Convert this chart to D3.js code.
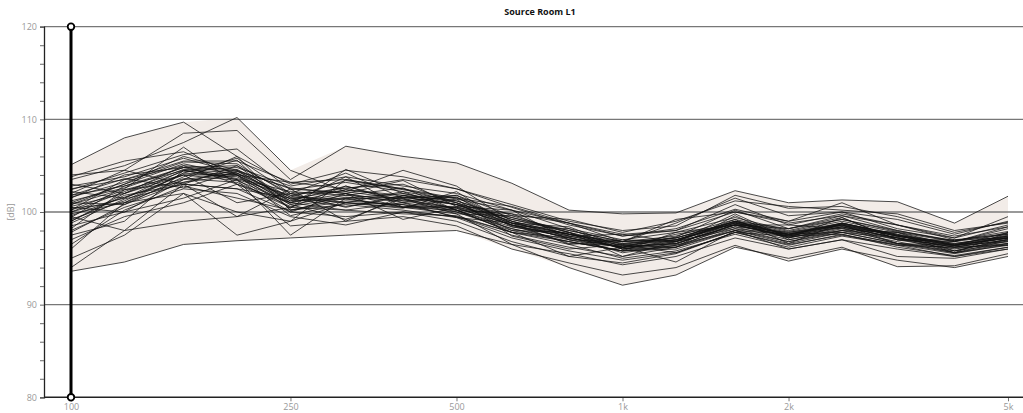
<!DOCTYPE html>
<html><head><meta charset="utf-8">
<script src="https://cdn.jsdelivr.net/npm/d3@7"></script>
<style>html,body{margin:0;padding:0;background:#fff;}svg{display:block;}</style>
</head><body>
<svg id="chart" width="1023" height="413"></svg>
<script>
const title = "Source Room L1";
const yLabel = "[dB]";
const frequencies = [100,125,160,200,250,315,400,500,630,800,1000,1250,1600,2000,2500,3150,4000,5000];
const xTickValues = [100,250,500,1000,2000,5000];
const xTickLabels = ["100","250","500","1k","2k","5k"];
const yTickValues = [80,90,100,110,120];
const levels = [
[105.1,108.0,109.7,106.0,103.0,104.5,103.8,102.5,100.8,99.0,98.0,98.5,101.8,100.4,100.6,99.5,97.8,98.9],
[103.5,105.0,107.5,110.2,104.5,102.2,104.5,102.8,99.0,97.0,96.8,98.8,101.5,99.6,100.0,98.2,97.2,99.5],
[102.0,104.5,108.5,108.8,103.5,107.1,106.0,105.3,103.1,100.2,99.8,99.9,102.3,101.0,101.3,101.1,98.8,101.7],
[93.6,94.6,96.5,96.9,97.2,97.5,97.8,98.0,96.5,95.5,94.3,95.2,97.2,96.0,97.0,96.0,95.2,96.0],
[94.0,98.0,99.0,99.5,102.5,99.0,101.8,100.2,97.8,95.2,96.2,94.6,98.0,96.0,97.0,95.2,95.0,96.0],
[97.5,99.0,104.5,103.5,97.5,101.5,102.0,101.0,98.0,97.8,95.2,96.8,99.2,96.6,98.8,97.6,95.6,97.8],
[99.5,98.0,103.0,105.0,101.0,103.8,100.5,101.4,97.4,96.0,96.5,95.6,97.8,97.4,97.6,96.4,96.2,96.4],
[101.0,103.0,106.0,104.5,102.5,102.0,103.4,100.6,100.2,97.0,95.8,97.8,98.6,98.2,99.4,97.0,96.8,98.2],
[100.0,101.5,104.0,104.0,99.6,101.0,100.4,102.2,98.5,98.2,96.0,96.2,99.6,97.0,98.0,97.8,95.8,97.0],
[99.0,102.0,105.0,103.0,100.5,102.8,101.0,99.4,98.8,96.5,97.0,96.8,98.4,97.8,98.6,96.6,96.4,96.8],
[102.5,103.5,105.5,105.5,103.2,103.5,102.5,101.5,100.6,98.8,97.4,98.0,100.8,98.6,99.8,98.6,97.2,98.6],
[98.0,100.5,102.5,102.0,99.5,98.6,100.0,99.0,96.8,95.2,94.5,95.5,97.8,96.5,97.5,96.5,95.5,96.5],
[103.0,102.0,104.0,101.0,102.0,100.5,101.8,101.2,99.2,97.8,96.5,97.2,99.0,97.5,98.8,97.5,96.5,97.5],
[96.0,101.0,103.5,104.2,100.8,99.2,101.5,100.0,98.0,96.8,95.8,96.2,98.2,96.8,98.0,96.8,95.6,96.6],
[100.8,102.5,107.0,103.0,101.0,102.0,100.5,100.5,99.4,97.8,96.0,96.8,99.0,97.6,98.8,97.5,96.6,97.4],
[104.0,104.5,103.0,102.5,100.0,99.5,100.0,99.5,97.8,96.5,95.0,95.8,97.6,96.2,97.4,96.4,95.2,96.2],
[99.8,101.0,102.0,97.5,99.0,103.5,102.5,101.0,99.0,97.6,96.6,97.0,98.6,97.4,98.4,97.2,96.2,97.2],
[101.5,104.0,104.8,105.0,102.0,104.2,101.5,101.8,98.8,98.4,96.2,97.6,98.6,98.6,98.2,97.8,96.4,97.8],
[97.0,99.5,101.0,103.0,98.5,99.0,99.5,98.5,96.0,94.5,93.2,94.0,96.4,94.7,96.0,94.8,94.0,95.2],
[95.0,97.5,102.0,100.0,99.0,101.0,100.5,99.8,96.5,94.0,92.1,93.2,96.2,95.0,96.2,94.1,94.2,95.5],
[102.2,101.5,104.5,103.5,101.8,101.0,102.2,100.2,99.8,97.4,97.6,96.8,99.8,97.2,99.4,97.0,97.0,97.2],
[100.2,103.5,105.0,104.5,101.2,102.8,101.2,101.6,98.4,97.3,95.6,96.4,98.0,97.6,97.8,97.2,95.6,96.9],
[98.5,100.0,103.5,106.0,100.2,101.5,100.5,100.2,98.2,97.0,96.2,97.3,100.2,98.2,99.6,98.0,96.9,97.9],
[101.8,102.8,104.5,104.8,102.8,103.8,102.8,102.0,100.2,98.8,97.6,98.0,100.0,98.8,99.6,98.6,97.4,98.4],
[99.0,101.8,103.0,102.5,101.5,101.0,100.8,99.5,97.5,96.2,95.2,96.2,98.0,96.8,97.8,96.6,95.6,96.4],
[100.5,100.0,101.5,103.5,100.0,102.0,99.2,100.5,98.6,96.6,96.4,96.2,98.7,97.3,98.0,97.3,95.8,97.1],
[103.8,105.5,106.5,104.0,103.2,102.5,103.5,102.5,100.5,98.6,97.4,98.2,100.3,99.0,100.0,99.2,97.6,99.0],
[99.2,101.2,104.2,103.8,100.8,101.8,102.6,100.2,98.4,97.6,96.0,96.5,98.9,97.2,98.3,96.6,96.1,96.6],
[96.5,100.2,102.8,101.5,100.2,100.8,100.2,99.4,97.2,95.8,94.8,95.6,97.8,96.4,97.6,96.2,95.3,96.2],
[102.8,103.8,105.8,104.2,101.6,103.4,102.4,101.4,100.2,98.2,97.0,97.8,99.4,98.0,99.2,98.0,96.8,98.4],
[100.0,102.2,104.6,104.2,101.4,100.6,101.6,101.6,98.8,97.6,96.8,97.0,98.8,97.6,98.7,97.5,96.5,97.3],
[101.2,102.6,104.8,103.6,102.2,101.8,101.4,99.8,99.6,97.8,96.0,97.0,99.0,97.8,98.8,97.6,96.6,97.4],
[97.8,100.8,103.8,105.6,100.2,101.2,100.8,100.0,98.2,96.8,95.8,96.4,98.4,97.0,98.2,97.0,96.0,96.8],
[101.6,103.2,105.4,105.2,101.8,102.6,103.0,101.0,99.2,98.0,96.8,97.4,99.2,97.9,99.0,97.8,96.8,97.6],
[99.6,101.6,103.6,103.2,100.6,101.6,101.2,100.4,98.6,97.2,96.2,96.6,98.6,97.2,98.4,97.2,96.2,97.0],
[100.6,102.0,104.4,104.0,101.0,100.2,101.0,100.2,97.8,97.2,96.2,96.8,98.2,97.6,98.6,97.0,96.4,97.2],
[98.8,101.4,103.0,99.5,100.5,100.2,99.8,99.6,97.8,96.8,95.8,96.0,98.0,96.6,97.8,96.6,95.8,96.6],
[102.4,104.2,106.2,106.8,102.4,103.2,102.2,101.2,99.4,98.0,96.8,97.2,99.0,98.2,99.2,97.9,96.9,97.7],
[100.2,102.4,104.0,103.4,101.0,102.4,101.6,100.8,98.6,97.4,96.2,96.6,98.6,97.4,98.4,97.2,96.2,97.0],
[101.0,100.8,103.2,104.6,101.6,101.4,100.6,100.6,98.8,97.6,96.6,97.2,98.9,97.7,98.7,97.4,96.4,97.2],
[99.4,102.8,104.8,104.4,101.4,102.4,101.8,100.8,99.0,97.6,96.4,96.9,98.8,97.5,98.6,97.4,96.4,97.2],
[100.4,101.0,104.2,105.8,102.0,102.2,101.4,100.4,98.6,97.2,96.2,96.6,98.6,97.4,98.6,97.4,96.4,97.2],
[101.8,103.6,102.6,104.4,102.6,102.0,101.0,101.8,99.6,99.2,97.8,99.0,101.2,100.6,100.2,99.8,98.0,98.8],
[98.2,102.4,103.2,104.0,100.4,104.6,102.0,100.8,99.8,98.8,96.8,99.2,100.0,99.0,101.0,98.6,97.0,97.6],
[100.8,103.0,105.2,104.0,101.2,101.4,101.6,100.8,98.8,97.4,96.4,97.0,98.8,97.6,98.5,97.4,96.3,97.4]
];

const svg = d3.select("#chart");
const plotLeft = 44, plotRight = 1023, plotTop = 26.7, plotBottom = 397.3;
const x = d3.scaleLog().domain([100, 5000]).range([71, 1008]);
const y = d3.scaleLinear().domain([80, 120]).range([plotBottom, plotTop]);
const font = "'Open Sans', 'Noto Sans', sans-serif";

// envelope band
const env = frequencies.map((f, i) => ({
  f, lo: d3.min(levels, s => s[i]), hi: d3.max(levels, s => s[i])
}));
svg.append("path").datum(env)
  .attr("fill", "#f2ece8")
  .attr("d", d3.area().x(d => x(d.f)).y0(d => y(d.lo)).y1(d => y(d.hi)));

// gridlines
svg.append("g").selectAll("line").data(yTickValues.filter(v => v > 80)).join("line")
  .attr("x1", plotLeft).attr("x2", plotRight)
  .attr("y1", d => y(d)).attr("y2", d => y(d))
  .attr("stroke", "#777").attr("stroke-width", 1.3);

// lines
const line = d3.line().x((d, i) => x(frequencies[i])).y(d => y(d));
svg.append("g").selectAll("path").data(levels).join("path")
  .attr("d", line).attr("fill", "none")
  .attr("stroke", "#111").attr("stroke-opacity", 0.8).attr("stroke-width", 0.95);

// y axis
const yAxis = d3.axisLeft(y).tickValues(d3.range(80, 121, 2)).tickSize(4)
  .tickFormat(d => yTickValues.includes(d) ? d : "");
const gy = svg.append("g").attr("transform", `translate(${plotLeft},0)`).call(yAxis);
gy.select(".domain").attr("stroke", "#222").attr("stroke-width", 1.3);
gy.selectAll(".tick line").attr("stroke", "#666");
gy.selectAll("text").attr("fill", "#999").attr("font-size", 9).attr("font-family", font).attr("x", -7);

// x axis
const xAxis = d3.axisBottom(x).tickValues(xTickValues).tickSize(4)
  .tickFormat((d, i) => xTickLabels[i]);
const gx = svg.append("g").attr("transform", `translate(0,${plotBottom})`).call(xAxis);
gx.select(".domain").remove();
gx.append("line").attr("x1", plotLeft).attr("x2", plotRight).attr("stroke", "#222").attr("stroke-width", 1.5);
gx.selectAll(".tick line").attr("stroke", "#777");
gx.selectAll("text").attr("fill", "#999").attr("font-size", 9).attr("font-family", font).attr("y", 6);

// cursor line at first band
const cx = x(frequencies[0]);
svg.append("line").attr("x1", cx).attr("x2", cx).attr("y1", y(120)).attr("y2", y(80))
  .attr("stroke", "#000").attr("stroke-width", 3);
svg.selectAll("circle.cap").data([120, 80]).join("circle")
  .attr("cx", cx).attr("cy", d => y(d)).attr("r", 3.3)
  .attr("fill", "#fff").attr("stroke", "#000").attr("stroke-width", 1.8);

// title and y label
svg.append("text").attr("x", 540).attr("y", 15).attr("text-anchor", "middle")
  .attr("font-family", font).attr("font-size", 9).attr("font-weight", "bold").attr("fill", "#111").text(title);
svg.append("text").attr("transform", `translate(14,${y(100)}) rotate(-90)`).attr("text-anchor", "middle")
  .attr("font-family", font).attr("font-size", 9).attr("fill", "#999").text(yLabel);
</script>
</body></html>
